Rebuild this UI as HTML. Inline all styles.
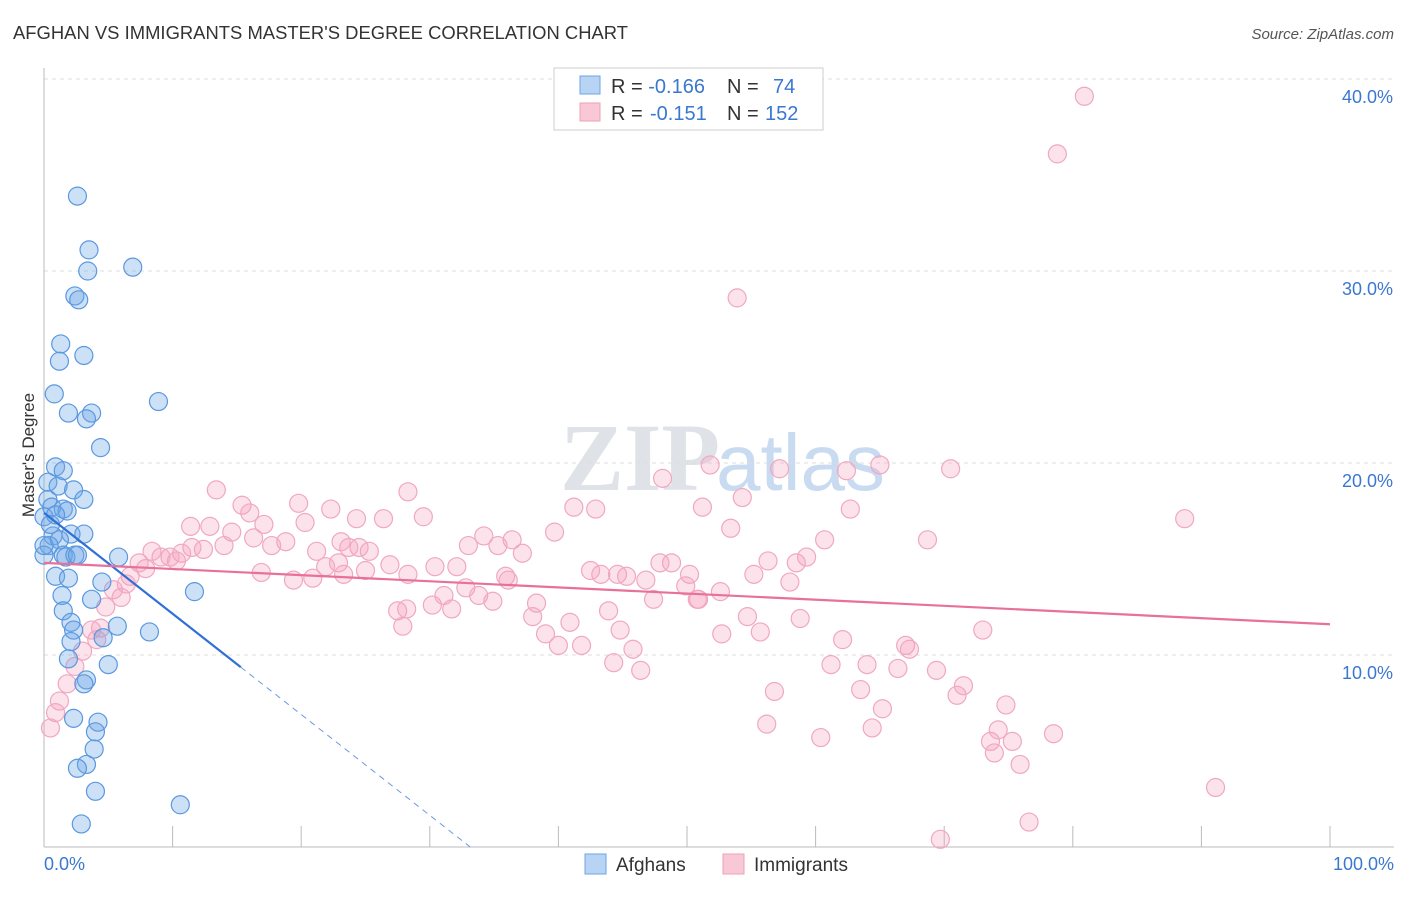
<!DOCTYPE html>
<html><head><meta charset="utf-8"><style>
body{margin:0;background:#fff;font-family:"Liberation Sans",sans-serif}
</style></head><body>
<svg id="c" width="1406" height="892" xmlns="http://www.w3.org/2000/svg" style="font-family:'Liberation Sans',sans-serif">
<text x="13" y="39" font-size="18.4" fill="#333" textLength="615">AFGHAN VS IMMIGRANTS MASTER'S DEGREE CORRELATION CHART</text>
<text x="1394" y="39" font-size="15" fill="#555" text-anchor="end" font-style="italic">Source: ZipAtlas.com</text>
<text x="720" y="490" font-size="96" fill="#dfe3e8" text-anchor="end" font-family="Liberation Serif" font-weight="bold">ZIP</text>
<text x="716" y="490" font-size="80" fill="#c9dbf0">atlas</text>
<text transform="translate(34,455) rotate(-90)" font-size="17" fill="#333" text-anchor="middle">Master's Degree</text>
<g id="grid"></g><g id="pts"></g><g id="trend"></g>
<g>
<rect x="554" y="68" width="269" height="62" fill="#fff" stroke="#ccc"/>
<rect x="580" y="76" width="20" height="18" fill="#b8d4f5" stroke="#6ea4e4"/>
<rect x="580" y="103" width="20" height="18" fill="#f9c8d6" stroke="#f0a0b8"/>
<text x="611" y="93" font-size="20" fill="#333">R = <tspan fill="#3a78d0">-0.166</tspan><tspan x="727">N = </tspan><tspan x="773" fill="#3a78d0">74</tspan></text>
<text x="611" y="120" font-size="20" fill="#333">R = <tspan x="650" fill="#3a78d0">-0.151</tspan><tspan x="727">N = </tspan><tspan x="765" fill="#3a78d0">152</tspan></text>
</g>
<g>
<rect x="585" y="854" width="21" height="20" fill="#b8d4f5" stroke="#6ea4e4"/>
<text x="616" y="871" font-size="19" fill="#333">Afghans</text>
<rect x="723" y="854" width="21" height="20" fill="#f9c8d6" stroke="#f0a0b8"/>
<text x="754" y="871" font-size="19" fill="#333">Immigrants</text>
</g>
<text x="44" y="870" font-size="18" fill="#3a78d0">0.0%</text>
<text x="1394" y="870" font-size="18" fill="#3a78d0" text-anchor="end">100.0%</text>
</svg>
<script>
const yTicks=[10,20,30,40];
const yTickLabels=["10.0%","20.0%","30.0%","40.0%"];
const xTicks=[0,10,20,30,40,50,60,70,80,90,100];
const afghanX=[2.6,3.5,3.4,6.9,2.4,2.7,1.3,3.1,1.2,0.8,1.9,3.7,3.3,8.9,4.4,0.9,1.5,0.3,1.1,2.3,3.1,0.3,0.6,1.5,1.8,0,2.1,3.1,0.7,1.2,0.4,1.5,1.7,2.4,2.6,5.8,0.9,1.9,4.5,1.4,3.7,11.7,1.5,2.1,2.3,5.7,8.2,2.1,4.6,1.9,5.0,3.3,3.1,2.3,4.2,4.0,3.9,3.3,2.6,4.0,10.6,2.9,0,0,0.5,0.9];
const afghanY=[33.9,31.1,30.0,30.2,28.7,28.5,26.2,25.6,25.3,23.6,22.6,22.6,22.3,23.2,20.8,19.8,19.6,19.0,18.8,18.6,18.1,18.1,17.7,17.6,17.5,17.2,16.3,16.3,16.2,16.0,15.7,15.2,15.1,15.2,15.2,15.1,14.1,14.0,13.8,13.1,12.9,13.3,12.3,11.7,11.3,11.5,11.2,10.7,10.9,9.8,9.5,8.7,8.5,6.7,6.5,6.0,5.1,4.3,4.1,2.9,2.2,1.2,15.2,15.7,16.8,17.3];
const immX=[80.9,78.8,53.9,88.7,91.1,69.7,76.6,13.4,15.4,19.8,28.3,22.3,29.5,24.3,26.4,41.2,42.9,48.1,51.8,57.2,62.4,65.0,70.5,54.3,51.2,53.4,62.7,68.7,60.7,59.3,56.3,58.5,55.2,58.0,52.6,50.8,50.2,49.9,48.8,47.9,46.8,44.6,45.3,43.3,42.5,39.7,37.2,36.4,35.3,34.2,33.0,32.1,30.4,28.3,26.9,25.3,24.5,23.7,23.1,22.9,21.9,21.2,20.3,18.8,17.7,17.1,16.3,16.0,14.6,14.0,12.9,12.4,11.5,11.4,10.7,10.3,9.8,9.1,8.4,7.9,7.4,6.7,6.4,6.0,5.4,4.8,4.4,4.1,3.7,3.0,2.4,1.8,1.2,0.9,0.5,16.9,19.4,20.9,23.3,25.0,27.5,27.9,28.2,30.2,31.7,31.1,32.8,33.8,34.9,35.9,36.1,38.3,38.0,39.0,40.0,40.9,41.8,43.9,44.8,44.3,45.8,46.4,47.4,50.9,52.7,54.7,55.7,58.8,56.8,56.2,60.4,61.2,62.1,63.5,64.0,65.2,64.4,66.4,67.0,67.3,69.4,71.0,71.5,73.0,73.6,73.9,74.2,74.8,75.3,75.9,78.5];
const immY=[39.1,36.1,28.6,17.1,3.1,0.4,1.3,18.6,17.8,17.9,18.5,17.6,17.2,17.1,17.1,17.7,17.6,19.2,19.9,19.7,19.6,19.9,19.7,18.2,17.7,16.6,17.6,16.0,16.0,15.1,14.9,14.8,14.2,13.8,13.3,12.9,14.2,13.6,14.8,14.8,13.9,14.2,14.1,14.2,14.4,16.4,15.3,16.0,15.7,16.2,15.7,14.6,14.6,14.2,14.7,15.4,15.6,15.6,15.9,14.8,14.6,15.4,16.9,15.9,15.7,16.8,16.1,17.4,16.4,15.7,16.7,15.5,15.6,16.7,15.3,14.9,15.1,15.1,15.4,14.5,14.8,14.1,13.7,13.0,13.4,12.5,11.4,10.8,11.3,10.2,9.4,8.5,7.6,7.0,6.2,14.3,13.9,14.0,14.2,14.4,12.3,11.5,12.4,12.6,12.4,13.1,13.5,13.1,12.8,14.1,13.9,12.7,12.0,11.1,10.5,11.7,10.5,12.3,11.3,9.6,10.3,9.2,12.9,12.9,11.1,12.0,11.2,11.9,8.1,6.4,5.7,9.5,10.8,8.2,9.5,7.2,6.2,9.3,10.5,10.3,9.2,7.9,8.4,11.3,5.5,4.9,6.1,7.4,5.5,4.3,5.9];
const afghanTrend=[17.4,-0.525];
const immTrend=[14.8,11.6];
const NS="http://www.w3.org/2000/svg";
const sx=v=>44+v*12.86, sy=v=>847-v*19.2;
function mk(t,a,p){const e=document.createElementNS(NS,t);for(const k in a)e.setAttribute(k,a[k]);p.appendChild(e);return e;}
const grid=document.getElementById('grid');
yTicks.forEach((t,i)=>{
 const l=mk('line',{x1:44,x2:1394,y1:sy(t),y2:sy(t),stroke:'#ddd','stroke-dasharray':'4,4'},grid);
 
 
 const tx=mk('text',{x:1393,y:sy(t)+24,'font-size':18,fill:'#3a78d0','text-anchor':'end'},grid);
 tx.textContent=yTickLabels[i];
 
 
});
mk('line',{x1:44,x2:44,y1:68,y2:847,stroke:'#bbb'},grid);
mk('line',{x1:44,x2:1394,y1:847,y2:847,stroke:'#bbb'},grid);
xTicks.forEach(t=>{const l=mk('line',{x1:sx(t),x2:sx(t),y1:826,y2:847,stroke:'#bbb'},grid);
 
 });
const pts=document.getElementById('pts');
immX.forEach((x,i)=>{const c=mk('circle',{cx:sx(x),cy:sy(immY[i]),r:9,fill:'rgba(244,160,188,0.3)',stroke:'#f0a8c0','stroke-width':1.2},pts);
 
 });
afghanX.forEach((x,i)=>{const c=mk('circle',{cx:sx(x),cy:sy(afghanY[i]),r:9,fill:'rgba(110,165,230,0.35)',stroke:'#5a98e0','stroke-width':1.2},pts);
 
 });
const tr=document.getElementById('trend');
const a0=afghanTrend[0],a1=afghanTrend[1];
const l1=mk('line',{x1:sx(0),y1:sy(a0),x2:sx(15.3),y2:sy(a0+a1*15.3),stroke:'#2f6fd6','stroke-width':2.2},tr);


const xe=-a0/a1;
const l2=mk('line',{x1:sx(15.3),y1:sy(a0+a1*15.3),x2:sx(xe),y2:sy(0),stroke:'#6a9ae0','stroke-width':1,'stroke-dasharray':'6,5'},tr);


const l3=mk('line',{x1:sx(0),y1:sy(immTrend[0]),x2:sx(100),y2:sy(immTrend[1]),stroke:'#e8709a','stroke-width':2.2},tr);


</script>
</body></html>
